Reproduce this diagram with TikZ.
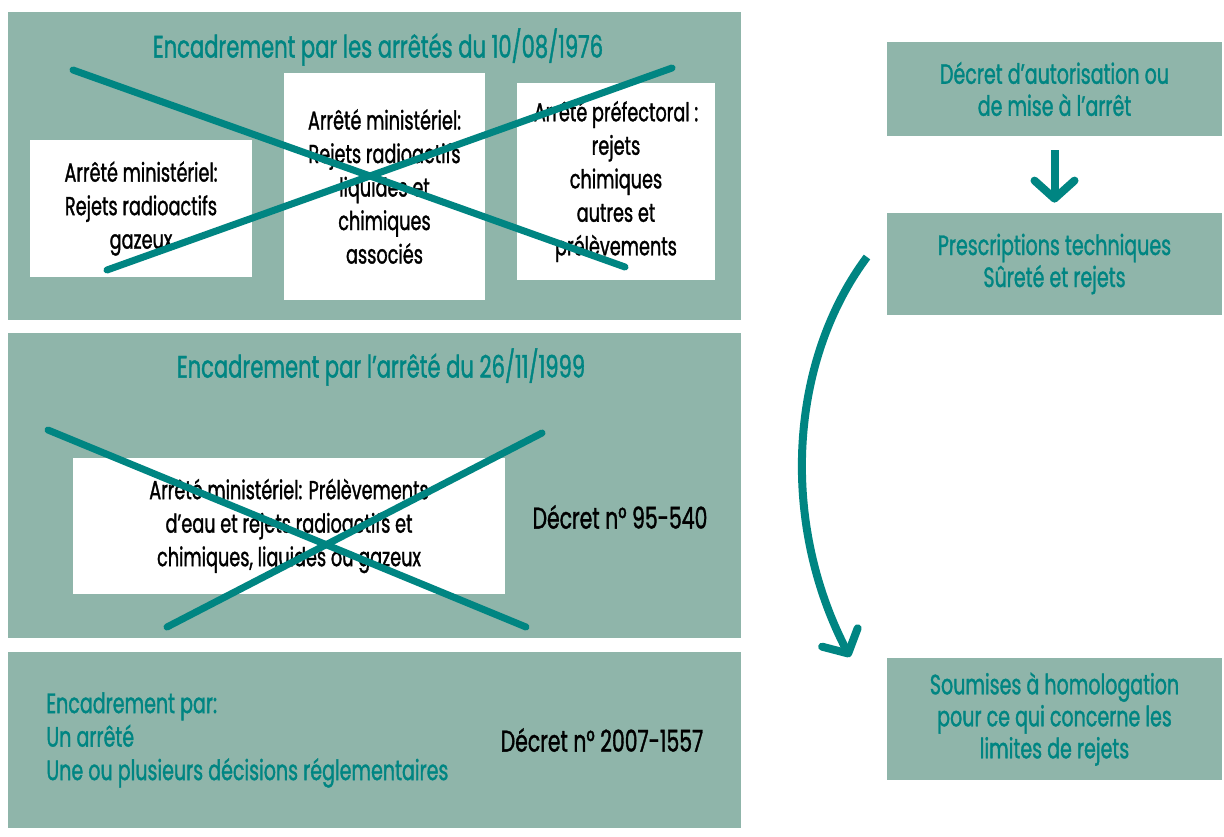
\documentclass[tikz,border=0pt]{standalone}
\usepackage{fontspec}
\setmainfont{Poppins}[FakeStretch=0.68,FakeBold=1.2]
\usetikzlibrary{arrows.meta}
\definecolor{panelgreen}{RGB}{143,181,170}
\definecolor{darkteal}{RGB}{0,133,130}

\begin{document}
\begin{tikzpicture}
	[x=0.5pt,y=-0.5pt,
	panel/.style={shape=rectangle,fill=panelgreen,inner sep=0pt},
	white box/.style={shape=rectangle,fill=white,inner sep=0pt,align=center,
		font=\fontsize{13}{16.75}\selectfont},
	green box/.style={shape=rectangle,fill=panelgreen,inner sep=0pt,align=center,
		text=darkteal,font=\fontsize{14}{16}\selectfont},
	title text/.style={text=darkteal,font=\fontsize{15.5}{16.75}\selectfont},
	plain text/.style={font=\fontsize{15}{16.75}\selectfont},
	cross/.style={draw=darkteal,line width=3.5pt,line cap=round},
	big arrow/.style={draw=darkteal,line width=4pt,
		-{Straight Barb[length=9pt,width=20pt,round]}}]
	\useasboundingbox (0,0) rectangle (1224,836);

	% left column
	\node [panel,minimum width=366.5pt,minimum height=154pt] (p1) at (374.5,166) {};
	\node [panel,minimum width=366.5pt,minimum height=152.5pt] (p2) at (374.5,485.5) {};
	\node [panel,minimum width=366.5pt,minimum height=88pt] (p3) at (374.5,740) {};

	\node [title text] (t1) at (378,47) {Encadrement par les arrêtés du 10/08/1976};
	\node [white box,minimum width=111pt,minimum height=68.5pt] (a) at (141,208.5)
		{Arrêté ministériel:\\Rejets radioactifs\\gazeux};
	\node [white box,minimum width=100.5pt,minimum height=113.5pt] (b) at (384.5,186.5)
		{Arrêté ministériel:\\Rejets radioactifs\\liquides et\\chimiques\\associés};
	\node [white box,minimum width=99pt,minimum height=98.5pt] (c) at (616,181.5)
		{Arrêté préfectoral :\\rejets\\chimiques\\autres et\\prélèvements};

	\node [title text] (t2) at (381,367) {Encadrement par l'arrêté du 26/11/1999};
	\node [white box,minimum width=216pt,minimum height=68pt] (d) at (289,526)
		{Arrêté ministériel: Prélèvements\\d'eau et rejets radioactifs et\\chimiques, liquides ou gazeux};
	\node [plain text] (e) at (620,517) {Décret n° 95-540};

	\node [title text,anchor=west,align=left,inner sep=0pt,font=\fontsize{14}{16.75}\selectfont] (t3) at (46,740)
		{Encadrement par:\\Un arrêté\\Une ou plusieurs décisions réglementaires};
	\node [plain text] (f) at (602,740) {Décret n° 2007-1557};

	% crosses
	\coordinate (x1) at (73,70);
	\coordinate (x2) at (625,267);
	\coordinate (x3) at (107,270);
	\coordinate (x4) at (672,68);
	\coordinate (x5) at (48,430);
	\coordinate (x6) at (526,627);
	\coordinate (x7) at (167,627);
	\coordinate (x8) at (542,433);
	\draw [cross] (x1) -- (x2);
	\draw [cross] (x3) -- (x4);
	\draw [cross] (x5) -- (x6);
	\draw [cross] (x7) -- (x8);

	% right column
	\node [green box,minimum width=167.5pt,minimum height=47pt] (r1) at (1054.5,89)
		{Décret d'autorisation ou\\de mise à l'arrêt};
	\node [green box,minimum width=167.5pt,minimum height=51pt] (r2) at (1054.5,264)
		{Prescriptions techniques\\Sûreté et rejets};
	\node [green box,minimum width=167.5pt,minimum height=61pt] (r3) at (1054.5,719)
		{Soumises à homologation\\pour ce qui concerne les\\limites de rejets};

	\coordinate (s) at (867,257);
	\coordinate (g) at (850,657);

	\path
	(r1) edge[big arrow,shorten <=7pt,shorten >=5pt] (r2);
	\draw [big arrow] (s) .. controls (790,360) and (779,520) .. (g);

\end{tikzpicture}
\end{document}
